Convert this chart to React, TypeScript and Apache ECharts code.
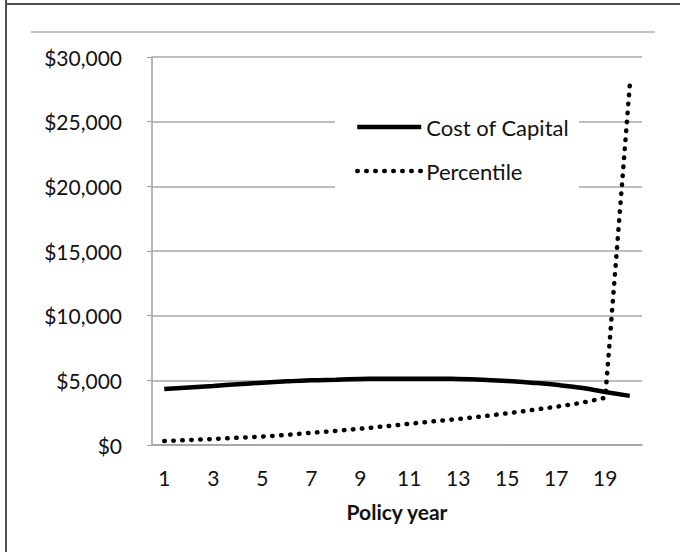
import React, { useEffect, useRef } from "react";
import * as echarts from "echarts";

const years = ["1","2","3","4","5","6","7","8","9","10","11","12","13","14","15","16","17","18","19","20"];
const costOfCapital = [4330,4450,4570,4700,4820,4920,5000,5050,5100,5130,5130,5130,5100,5040,4950,4820,4650,4420,4100,3800];
const percentile = [300,380,460,560,650,780,940,1090,1260,1440,1640,1830,2010,2220,2450,2700,2960,3250,3650,27800];
const yTicks = { min: 0, max: 30000, interval: 5000 };

const FONT = "Lato, 'Open Sans', sans-serif";
const TEXT = "#111111";

export default function App() {
  const ref = useRef<HTMLDivElement>(null);
  useEffect(() => {
    if (!ref.current) return;
    const chart = echarts.init(ref.current, null, { renderer: "svg" });
    chart.setOption({
      animation: false,
      backgroundColor: "#ffffff",
      textStyle: { fontFamily: FONT },
      grid: { left: 152, top: 57, width: 490, height: 388 },
      legend: {
        orient: "vertical",
        left: 335,
        top: 104,
        padding: [12, 10, 10, 20],
        backgroundColor: "#ffffff",
        itemWidth: 64,
        itemHeight: 22,
        itemGap: 22,
        itemStyle: { opacity: 0 },
        lineStyle: { width: 4.5 },
        textStyle: { fontFamily: FONT, fontSize: 22, color: TEXT },
        data: ["Cost of Capital", "Percentile"],
      },
      xAxis: {
        type: "category",
        data: years,
        boundaryGap: true,
        name: "Policy year",
        nameLocation: "middle",
        nameGap: 56,
        nameTextStyle: { fontFamily: FONT, fontSize: 21, fontWeight: "bold", color: TEXT },
        axisLine: { lineStyle: { color: "#a0a0a0", width: 1.5 } },
        axisTick: { show: false },
        axisLabel: { interval: 1, margin: 22, fontFamily: FONT, fontSize: 21, color: TEXT },
      },
      yAxis: {
        type: "value",
        min: yTicks.min,
        max: yTicks.max,
        interval: yTicks.interval,
        axisLine: { show: true, lineStyle: { color: "#a0a0a0", width: 1.5 } },
        axisTick: { show: true, length: 5, lineStyle: { color: "#a0a0a0" } },
        splitLine: { lineStyle: { color: "#a8a8a8", width: 1.5 } },
        axisLabel: {
          margin: 30,
          fontFamily: FONT,
          fontSize: 21,
          color: TEXT,
          formatter: (v: number) => "$" + v.toLocaleString("en-US"),
        },
      },
      series: [
        {
          name: "Cost of Capital",
          type: "line",
          data: costOfCapital,
          smooth: true,
          showSymbol: false,
          symbol: "none",
          lineStyle: { color: "#000000", width: 4.5 },
          itemStyle: { color: "#000000" },
        },
        {
          name: "Percentile",
          type: "line",
          data: percentile,
          showSymbol: false,
          symbol: "none",
          lineStyle: { color: "#000000", width: 4.5, type: [0.5, 8.5], cap: "round" },
          itemStyle: { color: "#000000" },
        },
      ],
      graphic: [
        { type: "line", shape: { x1: 6, y1: 0, x2: 6, y2: 552 }, style: { stroke: "#505050", lineWidth: 2 } },
        { type: "line", shape: { x1: 6, y1: 4, x2: 680, y2: 4 }, style: { stroke: "#505050", lineWidth: 2 } },
        { type: "line", shape: { x1: 31, y1: 32, x2: 655, y2: 32 }, style: { stroke: "#b0b0b0", lineWidth: 1.5 } },
      ],
    });
    return () => chart.dispose();
  }, []);
  return <div ref={ref} style={{ position: "fixed", left: 0, top: 0, width: 680, height: 552 }} />;
}
